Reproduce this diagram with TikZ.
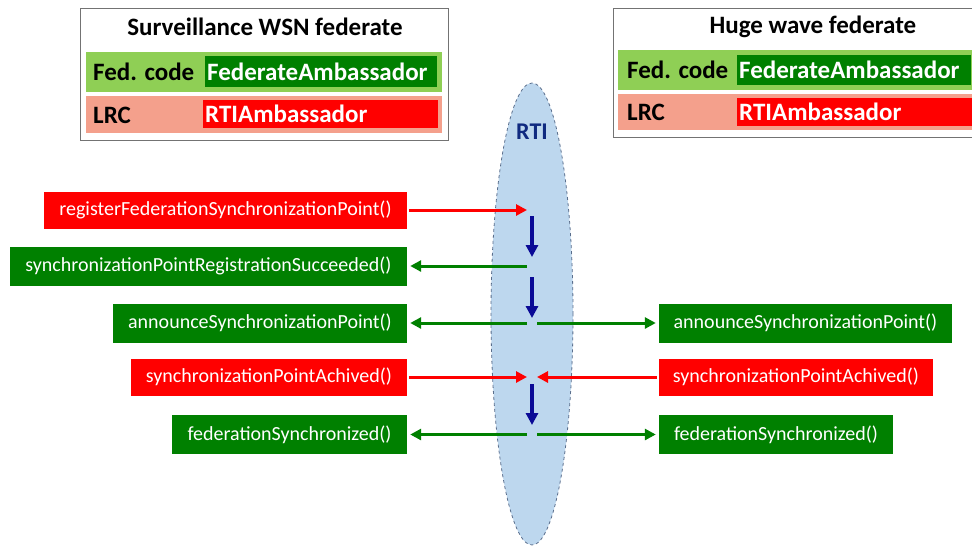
\documentclass[tikz,border=0pt]{standalone}
\usepackage{fontspec}
\setmainfont{Carlito}
\usetikzlibrary{shapes.geometric,arrows.meta,calc}
\definecolor{redc}{HTML}{FF0000}
\definecolor{greenc}{HTML}{008000}
\definecolor{lightg}{HTML}{8FCF55}
\definecolor{salmon}{HTML}{F4A08C}
\definecolor{rtifill}{HTML}{BDD7EE}
\definecolor{rtiline}{HTML}{5A6E8C}
\definecolor{navy}{HTML}{0A0A96}
\definecolor{rtitext}{HTML}{102A80}
\begin{document}
\begin{tikzpicture}[x=1pt,y=-1pt,
  outerbox/.style={draw=gray!90!black, line width=0.8pt, fill=white, inner sep=0pt},
  titletext/.style={font=\fontsize{25}{30}\selectfont\bfseries, text=black, inner sep=0pt},
  band/.style={draw=none, inner sep=0pt},
  innerbox/.style={draw=none, inner xsep=2pt, inner ysep=0pt, anchor=north west, text=white,
     font=\fontsize{25}{30}\selectfont\bfseries, align=left},
  bandlabel/.style={font=\fontsize{25}{30}\selectfont\bfseries, text=black, inner sep=0pt, anchor=west},
  msgred/.style={fill=redc, text=white, draw=none, minimum height=37pt, inner sep=0pt,
     font=\fontsize{20}{24}\selectfont},
  msggreen/.style={fill=greenc, text=white, draw=none, minimum height=39pt, inner sep=0pt,
     font=\fontsize{20}{24}\selectfont},
  arrred/.style={draw=redc, line width=3pt, -{Triangle[length=11pt,width=11pt]}},
  arrgreen/.style={draw=greenc, line width=3pt, -{Triangle[length=11pt,width=11pt]}},
  arrblue/.style={draw=navy, line width=3.5pt, -{Triangle[length=12pt,width=12pt]}}
]
\useasboundingbox (0,0) rectangle (972,547);
\clip (0,0) rectangle (972,547);

% ---------- left federate box ----------
\node[outerbox, minimum width=368pt, minimum height=132pt, anchor=north west] (lbox) at (80,8) {};
\node[titletext] (ltitle) at (265,27) {Surveillance WSN federate};
\node[band, fill=lightg, minimum width=356pt, minimum height=40pt, anchor=north west] (lgband) at (86,52) {};
\node[innerbox, fill=greenc, text width=228pt, minimum height=31pt] (lfa) at (205,56) {FederateAmbassador};
\node[bandlabel] (lfc) at (93,72) {Fed. code};
\node[band, fill=salmon, minimum width=356pt, minimum height=37pt, anchor=north west] (lrband) at (86,96) {};
\node[innerbox, fill=redc, text width=231pt, minimum height=28pt] (lra) at (203,100) {RTIAmbassador};
\node[bandlabel] (llrc) at (93,115) {LRC};

% ---------- right federate box ----------
\node[outerbox, minimum width=380pt, minimum height=129pt, anchor=north west] (rbox) at (613,8) {};
\node[titletext] (rtitle) at (813,27) {Huge wave federate};
\node[band, fill=lightg, minimum width=370pt, minimum height=40pt, anchor=north west] (rgband) at (618,50) {};
\node[innerbox, fill=greenc, text width=230pt, minimum height=30pt] (rfa) at (737,55) {FederateAmbassador};
\node[bandlabel] (rfc) at (627,70) {Fed. code};
\node[band, fill=salmon, minimum width=370pt, minimum height=36pt, anchor=north west] (rrband) at (618,94) {};
\node[innerbox, fill=redc, text width=240pt, minimum height=28pt] (rra) at (737,98) {RTIAmbassador};
\node[bandlabel] (rlrc) at (627,112) {LRC};

% ---------- RTI ellipse ----------
\node[ellipse, draw=rtiline, dashed, line width=0.8pt, fill=rtifill,
      minimum width=82pt, minimum height=462pt, inner sep=0pt] (rti) at (532,314) {};
\node[font=\fontsize{24}{28}\selectfont\bfseries, text=rtitext, inner sep=0pt] (rtilabel) at (532,132) {RTI};

% ---------- message boxes ----------
\node[msgred, minimum width=363pt] (m1) at (225.5,210) {registerFederationSynchronizationPoint()};
\node[msggreen, minimum width=397pt] (m2) at (208.5,266) {synchronizationPointRegistrationSucceeded()};
\node[msggreen, minimum width=294pt] (m3) at (260,323) {announceSynchronizationPoint()};
\node[msgred, minimum width=276pt] (m4) at (269,377) {synchronizationPointAchived()};
\node[msggreen, minimum width=235pt] (m5) at (289.5,434.5) {federationSynchronized()};

\node[msggreen, minimum width=293pt] (n3) at (805.5,323) {announceSynchronizationPoint()};
\node[msgred, minimum width=274pt] (n4) at (796,377) {synchronizationPointAchived()};
\node[msggreen, minimum width=234pt] (n5) at (776,434.5) {federationSynchronized()};

% ---------- RTI points ----------
\coordinate (l1) at (527,210);
\coordinate (l2) at (527,266);
\coordinate (l3) at (527,323);
\coordinate (r3) at (537,323);
\coordinate (l4) at (527,377);
\coordinate (r4) at (537,377);
\coordinate (l5) at (527,434.5);
\coordinate (r5) at (537,434.5);
\coordinate (b1s) at (532,216);
\coordinate (b1e) at (532,257);
\coordinate (b2s) at (532,277);
\coordinate (b2e) at (532,318);
\coordinate (b3s) at (532,384);
\coordinate (b3e) at (532,425);

% ---------- connectors ----------
\draw[arrred, shorten <=2pt] (m1.east) -- (l1);
\draw[arrgreen, shorten >=3pt] (l2) -- (m2.east);
\draw[arrgreen, shorten >=3pt] (l3) -- (m3.east);
\draw[arrgreen, shorten >=3pt] (r3) -- (n3.west);
\draw[arrred, shorten <=2pt] (m4.east) -- (l4);
\draw[arrred, shorten <=2pt] (n4.west) -- (r4);
\draw[arrgreen, shorten >=3pt] (l5) -- (m5.east);
\draw[arrgreen, shorten >=3pt] (r5) -- (n5.west);

\draw[arrblue] (b1s) -- (b1e);
\draw[arrblue] (b2s) -- (b2e);
\draw[arrblue] (b3s) -- (b3e);
\end{tikzpicture}
\end{document}
